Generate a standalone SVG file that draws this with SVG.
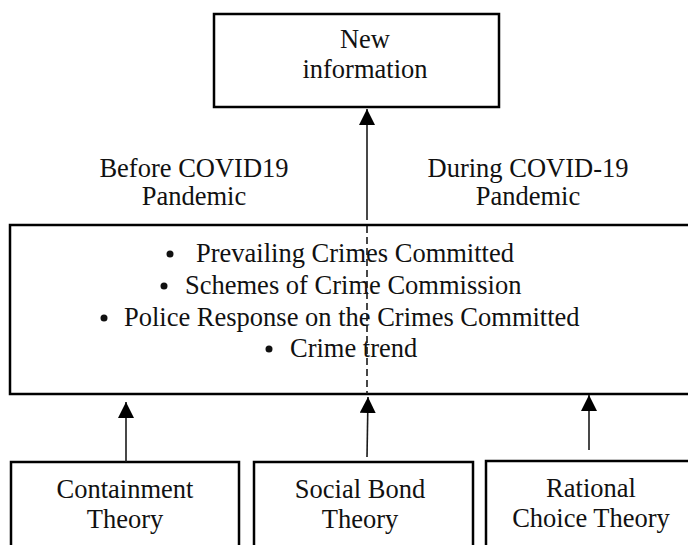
<svg xmlns="http://www.w3.org/2000/svg" width="688" height="545" viewBox="0 0 688 545">
<style>
  .box { fill: #ffffff; stroke: #000000; stroke-width: 2.5; }
  .t { font-family: "Liberation Serif", "Times New Roman", serif; font-size: 26.5px; fill: #111111; text-anchor: middle; }
  .tl { font-family: "Liberation Serif", "Times New Roman", serif; font-size: 26.5px; fill: #111111; }
  .arr { stroke: #1a1a1a; stroke-width: 1.6; fill: none; }
  .dash { stroke: #1a1a1a; stroke-width: 1.6; fill: none; stroke-dasharray: 7 4; }
</style>
<defs>
  <marker id="ahb" viewBox="0 0 16 16" refX="16" refY="8" markerWidth="16" markerHeight="16" markerUnits="userSpaceOnUse" orient="auto">
    <path d="M0,0 L16,8 L0,16 Z" fill="#000000"/>
  </marker>
</defs>
<rect width="688" height="545" fill="#ffffff"/>

<g id="new-information">
  <rect class="box" x="214" y="14" width="285" height="93"/>
  <text class="t" x="365" y="48">New</text>
  <text class="t" x="365" y="78">information</text>
</g>

<g id="label-before">
  <text class="t" x="194" y="177">Before COVID19</text>
  <text class="t" x="194" y="205">Pandemic</text>
</g>
<g id="label-during">
  <text class="t" x="528" y="177">During COVID-19</text>
  <text class="t" x="528" y="205">Pandemic</text>
</g>

<g id="crime-box">
  <rect class="box" x="10" y="225" width="690" height="169"/>
  <circle cx="170" cy="254" r="3.5" fill="#111111"/>
  <text class="tl" x="196" y="262">Prevailing Crimes Committed</text>
  <circle cx="164" cy="286" r="3.5" fill="#111111"/>
  <text class="tl" x="185" y="294">Schemes of Crime Commission</text>
  <circle cx="104" cy="318" r="3.5" fill="#111111"/>
  <text class="tl" x="124" y="326">Police Response on the Crimes Committed</text>
  <circle cx="269" cy="349" r="3.5" fill="#111111"/>
  <text class="tl" x="290" y="357">Crime trend</text>
</g>

<g id="containment">
  <rect class="box" x="11" y="462" width="228" height="100"/>
  <text class="t" x="125" y="498">Containment</text>
  <text class="t" x="125" y="528">Theory</text>
</g>
<g id="social-bond">
  <rect class="box" x="254" y="462" width="219" height="100"/>
  <text class="t" x="360" y="498">Social Bond</text>
  <text class="t" x="360" y="528">Theory</text>
</g>
<g id="rational-choice">
  <rect class="box" x="486" y="461" width="215" height="100"/>
  <text class="t" x="591" y="497">Rational</text>
  <text class="t" x="591" y="527">Choice Theory</text>
</g>

<g id="connectors">
  <line class="arr" x1="367" y1="220" x2="367" y2="109" marker-end="url(#ahb)"/>
  <line class="dash" x1="367" y1="226" x2="367" y2="394"/>
  <line class="arr" x1="126" y1="462" x2="126" y2="402" marker-end="url(#ahb)"/>
  <line class="arr" x1="367" y1="457" x2="368" y2="397" marker-end="url(#ahb)"/>
  <line class="arr" x1="589" y1="450" x2="589" y2="395" marker-end="url(#ahb)"/>
</g>
</svg>
